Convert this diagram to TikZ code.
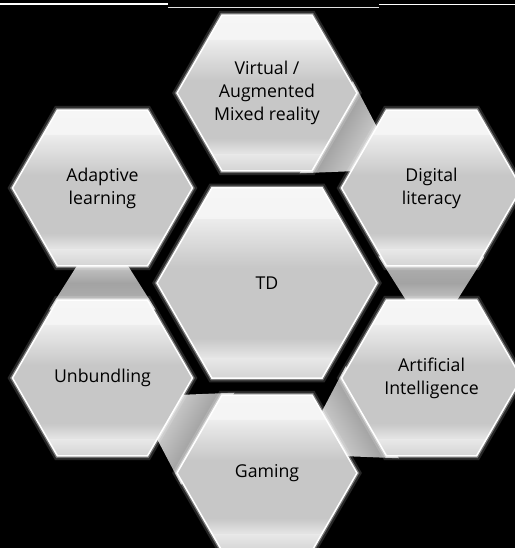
\documentclass[tikz,border=0pt]{standalone}
\usepackage{fontspec}
\setmainfont{Open Sans}
\usetikzlibrary{shapes.geometric,calc,backgrounds}
\definecolor{hextop}{RGB}{246,246,246}
\definecolor{hexlight}{RGB}{236,236,236}
\definecolor{hexgray}{RGB}{199,199,199}
\definecolor{hexrim}{RGB}{232,232,232}
\definecolor{hexbase}{RGB}{212,212,212}

% band of the hexagon fill, from #1 to #2 of its height, colour #3 to #4
\newcommand{\hexband}[4]{%
  \shade[top color=#3, bottom color=#4]
    ($(path picture bounding box.north west)!#1!(path picture bounding box.south west)$)
    rectangle ($(path picture bounding box.north east)!#2!(path picture bounding box.south east)$);}

\tikzset{
  hexbox/.style={regular polygon, regular polygon sides=6, inner sep=0pt, fill=hexgray,
    path picture={\hexband{0}{0.17}{hextop}{hexlight}\hexband{0.165}{0.42}{hexlight}{hexgray}
      \hexband{0.79}{0.9}{hexgray}{hexrim}\hexband{0.895}{1}{hexrim}{hexbase}},
    draw=white, line width=1.1pt,
    preaction={draw=white, line width=6pt, opacity=0.15},
    preaction={draw=white, line width=3pt, opacity=0.35},
    align=center, text=black, font=\fontsize{12.6}{16.4}\selectfont},
  hexouter/.style={hexbox, minimum size=4.5cm},
  hexcentre/.style={hexbox, minimum size=5.5cm},
  linkbar/.style={top color=black!16, bottom color=black!30, middle color=black!36}
}

% trapezoid from #1 (wide end) to #2 (narrow end), #3 = shading angle
\newcommand{\hexlink}[3]{%
  \fill[linkbar, shading angle=#3]
    ($(#1)!0.36!(#2)!1.33cm!90:(#2)$) -- ($(#1)!0.36!(#2)!1.33cm!-90:(#2)$)
    -- ($(#1)!0.64!(#2)!0.49cm!-90:(#2)$) -- ($(#1)!0.64!(#2)!0.49cm!90:(#2)$) -- cycle;}

\begin{document}
\begin{tikzpicture}
    \useasboundingbox (-6.675,-6.625) rectangle (6.2,7.075);

    % Hexagons
    \node[hexcentre] (td) at (0,0) {TD};
    \node[hexouter] (vr) at (90:4.75) {Virtual /\\Augmented\\Mixed reality};
    \node[hexouter] (dl) at (30:4.75) {Digital\\literacy};
    \node[hexouter] (ai) at (-30:4.75) {Artificial\\Intelligence};
    \node[hexouter] (gm) at (-90:4.75) {Gaming};
    \node[hexouter] (ub) at (210:4.75) {Unbundling};
    \node[hexouter] (al) at (150:4.75) {Adaptive\\learning};

    \begin{scope}[on background layer]
        \fill[black] (-6.675,-6.625) rectangle (6.2,7.075);
        % Links
        \hexlink{vr}{dl}{-120}
        \hexlink{dl}{ai}{-180}
        \hexlink{ai}{gm}{120}
        \hexlink{gm}{ub}{60}
        \hexlink{ub}{al}{0}
    \end{scope}

    % Rules at the top
    \draw[white, line width=0.9pt] (-6.675,6.975) -- (-2.475,6.975);
    \draw[white!88!black, line width=0.9pt] (-2.475,6.8875) -- (2.8,6.8875);
    \draw[white, line width=0.9pt] (2.8,6.96) -- (6.2,6.96);
\end{tikzpicture}
\end{document}
